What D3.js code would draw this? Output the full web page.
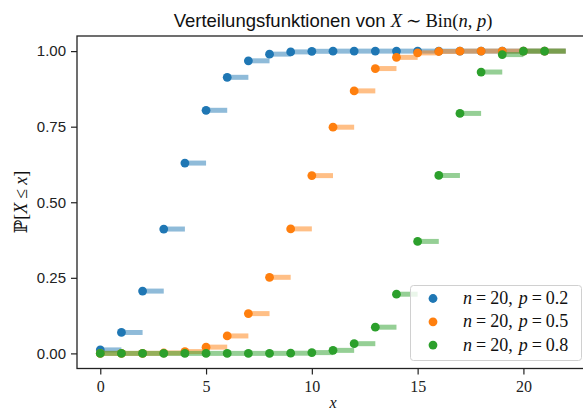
<!DOCTYPE html>
<html>
<head>
<meta charset="utf-8">
<script src="https://cdn.jsdelivr.net/npm/d3@7"></script>
<style>
  html, body { margin: 0; padding: 0; background: #fff; }
  svg { display: block; }
</style>
</head>
<body>
<svg id="chart" width="583" height="410"></svg>
<script>
// Support of X (each step runs from k to k + 1)
const support = [0, 1, 2, 3, 4, 5, 6, 7, 8, 9, 10, 11, 12, 13, 14, 15, 16, 17, 18, 19, 20, 21];

// Cumulative probabilities P[X <= k] for Bin(20, p)
const cdfP02 = [0.0115, 0.0692, 0.2061, 0.4114, 0.6296, 0.8042, 0.9133, 0.9679, 0.9900, 0.9974,
                0.9994, 0.9999, 1.0000, 1.0000, 1.0000, 1.0000, 1.0000, 1.0000, 1.0000, 1.0000, 1.0000, 1.0000];
const cdfP05 = [0.0000, 0.0000, 0.0002, 0.0013, 0.0059, 0.0207, 0.0577, 0.1316, 0.2517, 0.4119,
                0.5881, 0.7483, 0.8684, 0.9423, 0.9793, 0.9941, 0.9987, 0.9998, 1.0000, 1.0000, 1.0000, 1.0000];
const cdfP08 = [0.0000, 0.0000, 0.0000, 0.0000, 0.0000, 0.0000, 0.0000, 0.0000, 0.0001, 0.0006,
                0.0026, 0.0100, 0.0321, 0.0867, 0.1958, 0.3704, 0.5886, 0.7939, 0.9308, 0.9885, 1.0000, 1.0000];

const seriesN = [20, 20, 20];
const seriesP = ["0.2", "0.5", "0.8"];
const palette = ["#1f77b4", "#ff7f0e", "#2ca02c"];

const xTicks = [0, 5, 10, 15, 20];
const yTicks = [0, 0.25, 0.5, 0.75, 1.0];

const series = [cdfP02, cdfP05, cdfP08].map((vals, i) => ({
  values: vals, n: seriesN[i], p: seriesP[i], color: palette[i]
}));

const svg = d3.select("#chart");
const plot = { left: 77, right: 589, top: 36, bottom: 368.5 };

const x = d3.scaleLinear().domain([-1.1, 23.1]).range([plot.left, plot.right]);
const y = d3.scaleLinear().domain([-0.05, 1.05]).range([plot.bottom, plot.top]);

const sansFont = "'Liberation Sans', 'DejaVu Sans', sans-serif";
const serifFont = "'Liberation Serif', 'DejaVu Serif', serif";

// Steps and points, one series after another
const marks = svg.append("g");
series.forEach(s => {
  const g = marks.append("g");
  g.selectAll("line.step")
    .data(support)
    .join("line")
    .attr("class", "step")
    .attr("x1", k => x(k))
    .attr("x2", k => x(k + 1))
    .attr("y1", (k, i) => y(s.values[i]))
    .attr("y2", (k, i) => y(s.values[i]))
    .attr("stroke", s.color)
    .attr("stroke-width", 5)
    .attr("stroke-opacity", 0.5);
  g.selectAll("circle")
    .data(support)
    .join("circle")
    .attr("cx", k => x(k))
    .attr("cy", (k, i) => y(s.values[i]))
    .attr("r", 4.4)
    .attr("fill", s.color);
});

// Axes
const xAxis = d3.axisBottom(x).tickValues(xTicks).tickSize(6).tickPadding(6).tickFormat(d3.format("d"));
const yAxis = d3.axisLeft(y).tickValues(yTicks).tickSize(6).tickPadding(5).tickFormat(d3.format(".2f"));

const gx = svg.append("g").attr("transform", `translate(0,${plot.bottom})`).call(xAxis);
gx.select(".domain").remove();
gx.selectAll("text").attr("font-family", serifFont).attr("font-size", 16).attr("fill", "#222");
gx.selectAll("line").attr("stroke", "#222").attr("stroke-width", 1.2);

const gy = svg.append("g").attr("transform", `translate(${plot.left},0)`).call(yAxis);
gy.select(".domain").remove();
gy.selectAll("text").attr("font-family", sansFont).attr("font-size", 15).attr("fill", "#222");
gy.selectAll("line").attr("stroke", "#222").attr("stroke-width", 1.2);

// Frame
svg.append("rect")
  .attr("x", plot.left).attr("y", plot.top)
  .attr("width", plot.right - plot.left).attr("height", plot.bottom - plot.top)
  .attr("fill", "none").attr("stroke", "#222").attr("stroke-width", 1.3);

// Title
const cx = (plot.left + plot.right) / 2;
const title = svg.append("text")
  .attr("x", cx).attr("y", 27)
  .attr("text-anchor", "middle")
  .attr("font-size", 18.5).attr("fill", "#111");
title.append("tspan").attr("font-family", sansFont).text("Verteilungsfunktionen von ");
title.append("tspan").attr("font-family", serifFont).attr("font-style", "italic").text("X");
title.append("tspan").attr("font-family", serifFont).attr("dx", 4).text("∼");
title.append("tspan").attr("font-family", serifFont).attr("dx", 4).text("Bin(");
title.append("tspan").attr("font-family", serifFont).attr("font-style", "italic").text("n");
title.append("tspan").attr("font-family", serifFont).text(", ");
title.append("tspan").attr("font-family", serifFont).attr("font-style", "italic").text("p");
title.append("tspan").attr("font-family", serifFont).text(")");

// Y label
const ylab = svg.append("text")
  .attr("transform", `translate(27,202) rotate(-90)`)
  .attr("text-anchor", "middle")
  .attr("font-size", 18).attr("fill", "#111");
ylab.append("tspan").attr("font-family", "'DejaVu Serif', serif").text("ℙ");
ylab.append("tspan").attr("font-family", serifFont).text("[");
ylab.append("tspan").attr("font-family", serifFont).attr("font-style", "italic").text("X");
ylab.append("tspan").attr("font-family", serifFont).attr("dx", 4).text("≤");
ylab.append("tspan").attr("font-family", serifFont).attr("font-style", "italic").attr("dx", 4).text("x");
ylab.append("tspan").attr("font-family", serifFont).text("]");

// X label
svg.append("text")
  .attr("x", cx).attr("y", 408)
  .attr("text-anchor", "middle")
  .attr("font-family", serifFont).attr("font-style", "italic")
  .attr("font-size", 16).attr("fill", "#111")
  .text("x");

// Legend
const legend = svg.append("g");
legend.append("rect")
  .attr("x", 410.5).attr("y", 285.5).attr("width", 171).attr("height", 75)
  .attr("rx", 3).attr("fill", "#fff").attr("fill-opacity", 0.8)
  .attr("stroke", "#d0d0d0").attr("stroke-width", 1);
series.forEach((s, i) => {
  const ly = 298.5 + i * 23.3;
  legend.append("circle").attr("cx", 433).attr("cy", ly).attr("r", 4.4).attr("fill", s.color);
  const t = legend.append("text")
    .attr("x", 463).attr("y", ly + 5.5)
    .attr("font-family", serifFont).attr("font-size", 18).attr("fill", "#111");
  t.append("tspan").attr("font-style", "italic").text("n");
  t.append("tspan").attr("dx", 4).text("=");
  t.append("tspan").attr("dx", 4).text(`${s.n},`);
  t.append("tspan").attr("dx", 6).attr("font-style", "italic").text("p");
  t.append("tspan").attr("dx", 4).text("=");
  t.append("tspan").attr("dx", 4).text(s.p);
});
</script>
</body>
</html>
